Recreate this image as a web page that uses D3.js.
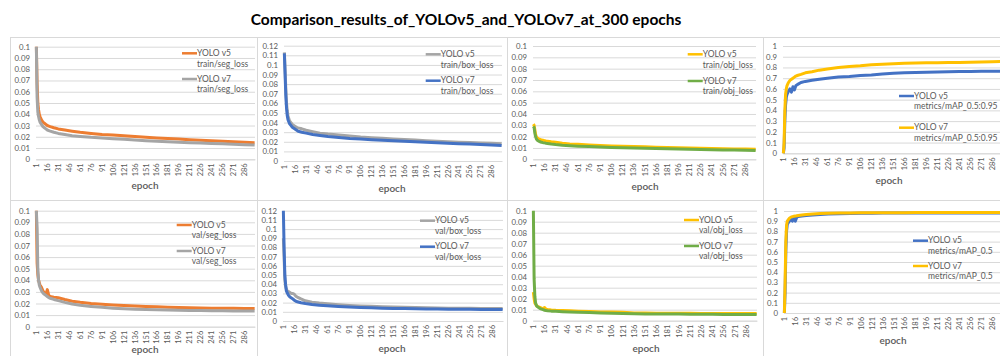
<!DOCTYPE html>
<html><head><meta charset="utf-8">
<script src="https://cdn.jsdelivr.net/npm/d3@7"></script>
<style>
html,body{margin:0;padding:0;background:#fff;}
svg{display:block;font-family:Lato,"Open Sans",sans-serif;}
</style></head>
<body><svg id="c" width="1000" height="356"></svg>
<script>
const TITLE = "Comparison_results_of_YOLOv5_and_YOLOv7_at_300 epochs";
const EPOCH_COUNT = 300;
const X_TICKS = [1,16,31,46,61,76,91,106,121,136,151,166,181,196,211,226,241,256,271,286];
const EPOCHS = [1,2,3,4,5,6,8,10,12,14,16,18,20,25,31,40,50,61,76,91,106,121,136,151,166,181,196,211,226,241,256,271,286,300];

const trainSegV5 = [0.100,0.068,0.050,0.044,0.040,0.038,0.035,0.033,0.032,0.031,0.030,0.0295,0.029,0.028,0.027,0.026,0.025,0.024,0.023,0.022,0.0215,0.021,0.0203,0.0196,0.019,0.0184,0.018,0.0174,0.017,0.0165,0.016,0.0156,0.0152,0.0148];
const trainSegV7 = [0.100,0.055,0.042,0.038,0.035,0.033,0.031,0.029,0.028,0.027,0.026,0.0255,0.025,0.024,0.023,0.022,0.021,0.0203,0.0195,0.019,0.0183,0.0177,0.0171,0.0165,0.016,0.0156,0.0152,0.0148,0.0144,0.014,0.0137,0.0133,0.013,0.0128];
const trainBoxV5 = [0.113,0.095,0.075,0.060,0.052,0.047,0.042,0.040,0.038,0.037,0.036,0.035,0.0345,0.0335,0.032,0.0305,0.029,0.028,0.027,0.026,0.025,0.0243,0.0236,0.023,0.0224,0.0218,0.0212,0.0206,0.020,0.0196,0.0192,0.0188,0.0184,0.018];
const trainBoxV7 = [0.112,0.090,0.068,0.055,0.047,0.043,0.039,0.037,0.035,0.034,0.033,0.032,0.031,0.030,0.029,0.0275,0.0265,0.0255,0.0245,0.0235,0.0228,0.0222,0.0216,0.021,0.0205,0.020,0.0195,0.019,0.0185,0.018,0.0176,0.0171,0.0166,0.0162];
const trainObjV5 = [0.031,0.030,0.026,0.022,0.020,0.019,0.018,0.0175,0.017,0.0168,0.0165,0.0162,0.016,0.0155,0.015,0.0142,0.0136,0.0132,0.0126,0.0122,0.0118,0.0115,0.0112,0.011,0.0107,0.0105,0.0102,0.010,0.0098,0.0096,0.0094,0.0092,0.009,0.0088];
const trainObjV7 = [0.029,0.028,0.023,0.020,0.018,0.017,0.016,0.0155,0.015,0.0147,0.0145,0.0142,0.014,0.0135,0.013,0.0124,0.012,0.0116,0.0112,0.0108,0.0105,0.0102,0.0099,0.0097,0.0095,0.0093,0.0091,0.0089,0.0087,0.0085,0.0083,0.0081,0.0079,0.0077];
const mapV5 = [0.0,0.05,0.30,0.45,0.52,0.55,0.58,0.60,0.57,0.62,0.59,0.63,0.64,0.66,0.67,0.68,0.69,0.70,0.71,0.715,0.725,0.73,0.738,0.745,0.75,0.752,0.756,0.758,0.76,0.762,0.763,0.764,0.765,0.765];
const mapV7 = [0.0,0.10,0.40,0.55,0.60,0.63,0.66,0.68,0.69,0.70,0.71,0.72,0.725,0.735,0.75,0.76,0.775,0.785,0.80,0.81,0.815,0.825,0.83,0.835,0.84,0.842,0.844,0.845,0.846,0.847,0.849,0.851,0.853,0.855];
const valSegV5 = [0.100,0.055,0.045,0.040,0.038,0.036,0.034,0.031,0.029,0.028,0.032,0.027,0.026,0.0255,0.025,0.0235,0.022,0.021,0.020,0.0193,0.0187,0.0182,0.0178,0.0174,0.0171,0.0168,0.0166,0.0164,0.0162,0.016,0.0159,0.0158,0.0157,0.0156];
const valSegV7 = [0.100,0.085,0.050,0.040,0.036,0.034,0.031,0.029,0.028,0.027,0.026,0.025,0.0245,0.0235,0.0225,0.021,0.0195,0.0185,0.0175,0.0167,0.016,0.0155,0.0151,0.0148,0.0146,0.0144,0.0142,0.014,0.0139,0.0138,0.0137,0.0136,0.0135,0.0135];
const valBoxV5 = [0.090,0.070,0.045,0.038,0.035,0.033,0.032,0.031,0.030,0.030,0.029,0.027,0.026,0.024,0.022,0.0205,0.0195,0.0188,0.0178,0.017,0.0164,0.016,0.0156,0.0152,0.0149,0.0146,0.0144,0.0142,0.014,0.0139,0.0138,0.0137,0.0136,0.0135];
const valBoxV7 = [0.120,0.080,0.050,0.040,0.033,0.031,0.028,0.026,0.025,0.024,0.0225,0.0215,0.021,0.0198,0.019,0.018,0.0172,0.0165,0.0158,0.0152,0.0147,0.0143,0.014,0.0137,0.0135,0.0133,0.0131,0.013,0.0129,0.0128,0.0127,0.0126,0.0126,0.0125];
const valObjV5 = [0.026,0.020,0.016,0.015,0.014,0.013,0.0125,0.012,0.0115,0.011,0.012,0.0105,0.0102,0.0098,0.0095,0.0092,0.009,0.0087,0.0083,0.008,0.0078,0.0076,0.007,0.0069,0.0068,0.0068,0.0067,0.0067,0.0066,0.0066,0.0065,0.0065,0.0065,0.0065];
const valObjV7 = [0.100,0.038,0.022,0.016,0.014,0.013,0.012,0.011,0.0105,0.010,0.0095,0.0092,0.009,0.0087,0.0085,0.0082,0.008,0.0077,0.0074,0.0071,0.0068,0.0066,0.0064,0.0062,0.0061,0.006,0.006,0.0059,0.0058,0.0058,0.0057,0.0057,0.0057,0.0057];
const map50V5 = [0.0,0.20,0.60,0.80,0.87,0.88,0.90,0.92,0.90,0.93,0.90,0.94,0.945,0.95,0.955,0.96,0.965,0.97,0.972,0.975,0.977,0.978,0.98,0.98,0.98,0.981,0.981,0.981,0.981,0.98,0.98,0.98,0.98,0.98];
const map50V7 = [0.0,0.30,0.70,0.86,0.90,0.91,0.93,0.94,0.945,0.948,0.95,0.953,0.955,0.96,0.965,0.97,0.975,0.978,0.98,0.98,0.982,0.983,0.983,0.984,0.984,0.985,0.985,0.985,0.985,0.985,0.985,0.985,0.985,0.985];

const SERIES_NAMES = ["YOLO v5","YOLO v7"];
const C = {orange:"#ED7D31", grey:"#A5A5A5", blue:"#4472C4", yellow:"#FFC000", green:"#70AD47"};

const panels = [
 {box:[10,37,257,200], px:[36,255], py:[159.3,46.7], ymax:0.1, step:0.01, sub:"train/seg_loss", data:[trainSegV5,trainSegV7], col:[C.orange,C.grey], lg:[182,53.3,25.7], ex:[145,189]},
 {box:[257,37,507,200], px:[284,502], py:[161,45.7], ymax:0.12, step:0.01, sub:"train/box_loss", data:[trainBoxV5,trainBoxV7], col:[C.grey,C.blue], lg:[425.7,54.3,26.4], ex:[392,192]},
 {box:[507,37,763,200], px:[533,756], py:[159.3,46], ymax:0.1, step:0.01, sub:"train/obj_loss", data:[trainObjV5,trainObjV7], col:[C.yellow,C.green], lg:[687.7,54.3,26.7], ex:[645,190]},
 {box:[763,37,1001,200], px:[783,1003], py:[153.3,46], ymax:1, step:0.1, sub:"metrics/mAP_0.5:0.95", data:[mapV5,mapV7], col:[C.blue,C.yellow], lg:[899,96,31.7], ex:[889,184]},
 {box:[10,200,257,357], px:[36,255], py:[326.7,210.7], ymax:0.1, step:0.01, sub:"val/seg_loss", data:[valSegV5,valSegV7], col:[C.orange,C.grey], lg:[176.7,225,26], ex:[145,353]},
 {box:[257,200,507,357], px:[283,503], py:[321,210.7], ymax:0.12, step:0.01, sub:"val/box_loss", data:[valBoxV5,valBoxV7], col:[C.grey,C.blue], lg:[420,220.7,26], ex:[392,351.5]},
 {box:[507,200,763,357], px:[533,757], py:[320.7,210.7], ymax:0.1, step:0.01, sub:"val/obj_loss", data:[valObjV5,valObjV7], col:[C.yellow,C.green], lg:[684,220,26], ex:[646,351.5]},
 {box:[763,200,1001,357], px:[784,1003], py:[313,211], ymax:1, step:0.1, sub:"metrics/mAP_0.5", data:[map50V5,map50V7], col:[C.blue,C.yellow], lg:[913,240.7,25.3], ex:[893,344]}
];

const svg = d3.select("#c");
svg.append("text").attr("x",466).attr("y",25).attr("text-anchor","middle")
  .attr("font-size",15.5).attr("font-weight","bold").attr("fill","#000").text(TITLE);

const epochsAll = d3.range(1, EPOCH_COUNT+1);
const TXT = "#595959";

panels.forEach(p => {
  const g = svg.append("g");
  g.append("rect").attr("x",p.box[0]+0.5).attr("y",p.box[1]+0.5)
    .attr("width",p.box[2]-p.box[0]).attr("height",p.box[3]-p.box[1])
    .attr("fill","#fff").attr("stroke","#d9d9d9").attr("stroke-width",1);

  const x = d3.scaleBand().domain(epochsAll).range(p.px);
  const y = d3.scaleLinear().domain([0,p.ymax]).range(p.py);
  const nT = Math.round(p.ymax/p.step);
  const yt = d3.range(0,nT+1).map(i => +(i*p.step).toFixed(2));

  const ya = d3.axisLeft(y).tickValues(yt).tickSize(-(p.px[1]-p.px[0])).tickPadding(6)
    .tickFormat(d => d3.format("~g")(d));
  const yg = g.append("g").attr("transform",`translate(${p.px[0]},0)`).call(ya);
  yg.select(".domain").remove();
  yg.selectAll(".tick line").attr("stroke","#d9d9d9").attr("stroke-width",1);
  yg.selectAll(".tick text").attr("fill",TXT).attr("font-size",7.8).attr("font-family","Lato,sans-serif");

  const xa = d3.axisBottom(x).tickValues(X_TICKS).tickSize(0).tickPadding(0);
  const xg = g.append("g").attr("transform",`translate(0,${p.py[0]})`).call(xa);
  xg.select(".domain").attr("stroke","#d9d9d9");
  xg.selectAll(".tick text").attr("fill",TXT).attr("font-size",7.5).attr("font-family","Lato,sans-serif")
    .attr("text-anchor","end").attr("dy",null).attr("y",0)
    .attr("transform","translate(2.5,4) rotate(-90)");

  g.append("text").attr("x",p.ex[0]).attr("y",p.ex[1]).attr("text-anchor","middle")
    .attr("font-size",10).attr("fill",TXT).attr("font-weight",600).text("epoch");

  const line = d3.line().x((d,i) => x(EPOCHS[i]) + x.bandwidth()/2).y(d => y(d));
  p.data.forEach((vals,k) => {
    g.append("path").datum(vals).attr("d",line).attr("fill","none")
      .attr("stroke",p.col[k]).attr("stroke-width",3).attr("stroke-linejoin","round");
  });

  p.data.forEach((vals,k) => {
    const ly = p.lg[1] + k*p.lg[2];
    g.append("line").attr("x1",p.lg[0]).attr("x2",p.lg[0]+15).attr("y1",ly).attr("y2",ly)
      .attr("stroke",p.col[k]).attr("stroke-width",2.5);
    g.append("text").attr("x",p.lg[0]+15).attr("y",ly+2.7).attr("font-size",8.5).attr("fill",TXT).text(SERIES_NAMES[k]);
    g.append("text").attr("x",p.lg[0]+15).attr("y",ly+13.4).attr("font-size",8.5).attr("fill",TXT).text(p.sub);
  });
});
</script></body></html>
